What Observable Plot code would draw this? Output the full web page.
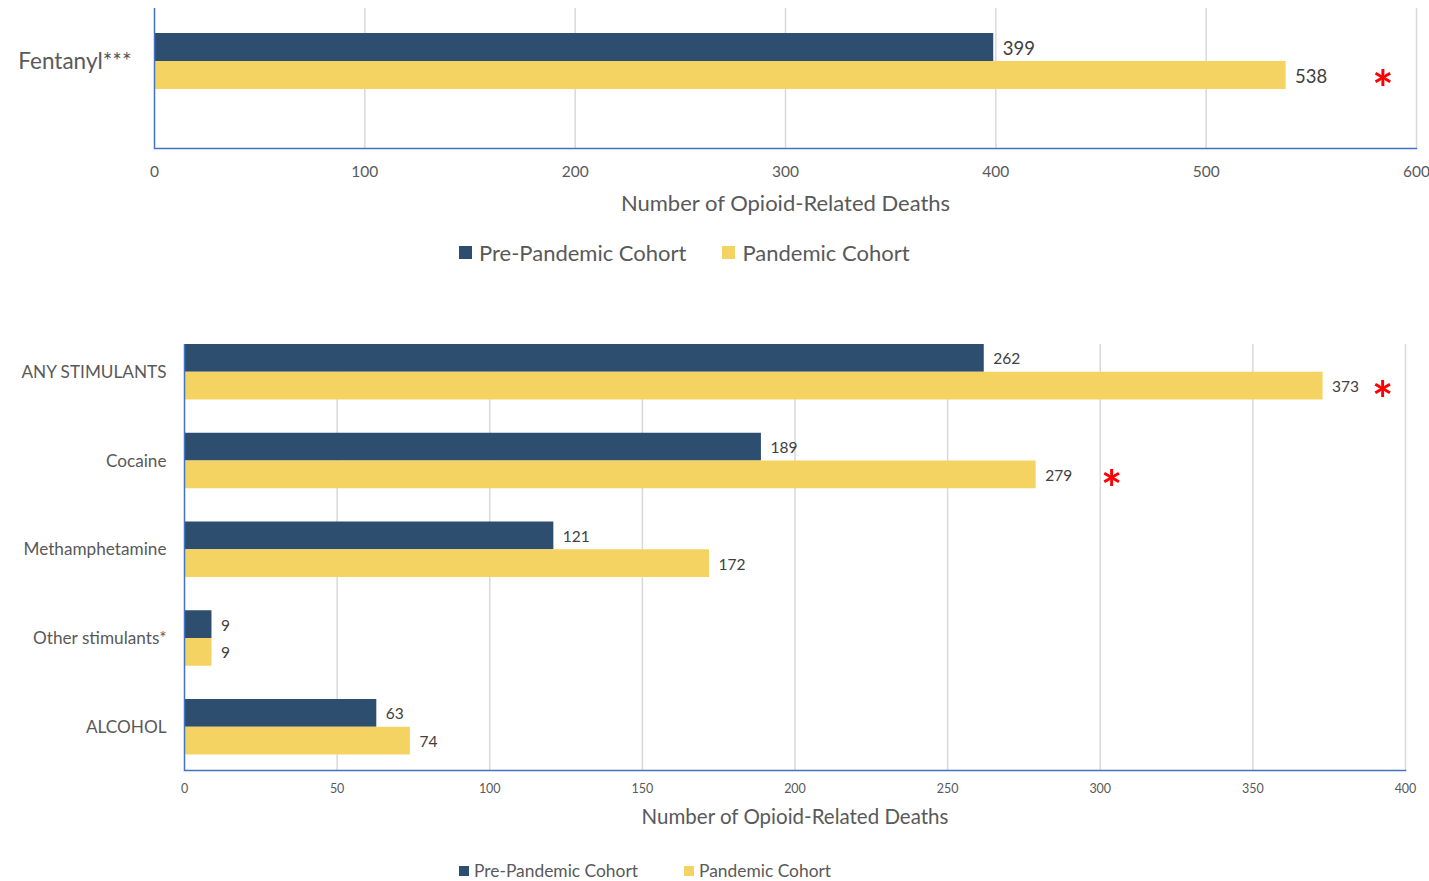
<!DOCTYPE html>
<html>
<head>
<meta charset="utf-8">
<script src="https://cdn.jsdelivr.net/npm/d3@7"></script>
<script src="https://cdn.jsdelivr.net/npm/@observablehq/plot@0.6"></script>
<style>
  html, body { margin: 0; padding: 0; background: #fff; }
  body { width: 1429px; height: 881px; position: relative; overflow: hidden; font-family: Lato, "Open Sans", sans-serif; }
  .panel { position: absolute; left: 0; }
  .legend { position: absolute; display: flex; align-items: center; color: #595959; white-space: nowrap; }
  .legend .item { display: flex; align-items: center; }
  .legend .sw { display: inline-block; }
</style>
</head>
<body>
<div id="top" class="panel" style="top:0px"></div>
<div id="legendTop" class="legend" style="top:239px; left:459px; font-size:22px;"></div>
<div id="bottom" class="panel" style="top:330px"></div>
<div id="legendBottom" class="legend" style="top:860px; left:459px; font-size:17.4px;"></div>
<script>
// ---- data ----
const seriesNames = ["Pre-Pandemic Cohort", "Pandemic Cohort"];
const seriesColors = ["#2d4e6e", "#f5d363"];

const categoriesTop = ["Fentanyl***"];
const preTop = [399];
const pandemicTop = [538];
const ticksTop = [0, 100, 200, 300, 400, 500, 600];
const significantTop = [{category: "Fentanyl***", x: 584}];

const categoriesBottom = ["ANY STIMULANTS", "Cocaine", "Methamphetamine", "Other stimulants*", "ALCOHOL"];
const preBottom = [262, 189, 121, 9, 63];
const pandemicBottom = [373, 279, 172, 9, 74];
const ticksBottom = [0, 50, 100, 150, 200, 250, 300, 350, 400];
const significantBottom = [{category: "ANY STIMULANTS", x: 392.5}, {category: "Cocaine", x: 303.7}];

const axisTitle = "Number of Opioid-Related Deaths";

// ---- build ----
const AXIS_BLUE = "#4472c4";
const GRID = "#d9d9d9";
const TEXT = "#595959";
const VALUE = "#404040";

function rows(cats, pre, pan) {
  return cats.map((c, i) => ({category: c, pre: pre[i], pandemic: pan[i]}));
}

function panel(opts) {
  const data = rows(opts.categories, opts.pre, opts.pandemic);
  const half = opts.bandwidth / 2;
  return Plot.plot({
    width: 1429,
    height: opts.height,
    marginLeft: opts.marginLeft,
    marginRight: opts.marginRight,
    marginTop: opts.marginTop,
    marginBottom: opts.marginBottom,
    style: {fontFamily: "Lato, 'Open Sans', sans-serif", color: TEXT, background: "white", overflow: "visible"},
    x: {domain: [opts.ticks[0], opts.ticks[opts.ticks.length - 1]]},
    y: {domain: opts.categories, paddingInner: opts.paddingInner, paddingOuter: opts.paddingOuter, align: opts.align, round: false},
    marks: [
      Plot.gridX(opts.ticks.slice(1), {stroke: GRID, strokeOpacity: 1, strokeWidth: 1.5}),
      Plot.barX(data, {x: "pre", y: "category", fill: seriesColors[0], insetBottom: half}),
      Plot.barX(data, {x: "pandemic", y: "category", fill: seriesColors[1], insetTop: half}),
      Plot.text(data, {x: "pre", y: "category", text: d => String(d.pre), dy: -half / 2 + opts.valueDy, dx: opts.valueDx, textAnchor: "start", fontSize: opts.valueSize, fill: VALUE}),
      Plot.text(data, {x: "pandemic", y: "category", text: d => String(d.pandemic), dy: half / 2 + opts.valueDy, dx: opts.valueDx, textAnchor: "start", fontSize: opts.valueSize, fill: VALUE}),
      Plot.text(opts.significant, {x: "x", y: "category", text: () => "*", fill: "#ff0000", fontSize: opts.starSize, fontWeight: "bold", dy: half / 2 + opts.starDy, textAnchor: "middle"}),
      Plot.frame({anchor: "bottom", stroke: AXIS_BLUE, strokeWidth: 1.5}),
      Plot.ruleX([opts.ticks[0]], {stroke: AXIS_BLUE, strokeWidth: 1.5}),
      Plot.axisX(opts.ticks, {tickSize: 0, tickPadding: opts.tickPadding, fontSize: opts.tickSize, label: null, fill: TEXT}),
      Plot.axisY({tickSize: 0, tickPadding: opts.catPadding, fontSize: opts.catSize, label: null, fill: TEXT}),
      Plot.text([axisTitle], {frameAnchor: "bottom", dy: opts.titleDy, fontSize: opts.titleSize, fill: TEXT})
    ]
  });
}

document.getElementById("top").append(panel({
  categories: categoriesTop, pre: preTop, pandemic: pandemicTop, ticks: ticksTop, significant: significantTop,
  height: 215, marginLeft: 154, marginRight: 13, marginTop: 8, marginBottom: 67,
  paddingInner: 0, paddingOuter: 0.75, align: 0.2976, bandwidth: 56,
  valueDx: 9, valueDy: 2, valueSize: 18.5, starSize: 50, starDy: 16,
  tickPadding: 17, tickSize: 15.5, catPadding: 23, catSize: 22.5, titleDy: 62, titleSize: 22
}));

document.getElementById("bottom").append(panel({
  categories: categoriesBottom, pre: preBottom, pandemic: pandemicBottom, ticks: ticksBottom, significant: significantBottom,
  height: 500, marginLeft: 184, marginRight: 24, marginTop: 14, marginBottom: 60,
  paddingInner: 0.3746, paddingOuter: 0.0873, align: 0, bandwidth: 55.5,
  valueDx: 9, valueDy: 1, valueSize: 15.5, starSize: 50, starDy: 16,
  tickPadding: 14, tickSize: 12.5, catPadding: 18, catSize: 17.2, titleDy: 53, titleSize: 20.5
}));

function legend(el, swatch, gap) {
  seriesNames.forEach((name, i) => {
    const item = document.createElement("span");
    item.className = "item";
    if (i > 0) item.style.marginLeft = gap + "px";
    const sw = document.createElement("span");
    sw.className = "sw";
    sw.style.width = swatch + "px";
    sw.style.height = swatch + "px";
    sw.style.background = seriesColors[i];
    sw.style.marginRight = Math.round(swatch * 0.5) + "px";
    item.append(sw, document.createTextNode(name));
    el.append(item);
  });
}
legend(document.getElementById("legendTop"), 13, 36);
legend(document.getElementById("legendBottom"), 10, 46);
</script>
</body>
</html>
